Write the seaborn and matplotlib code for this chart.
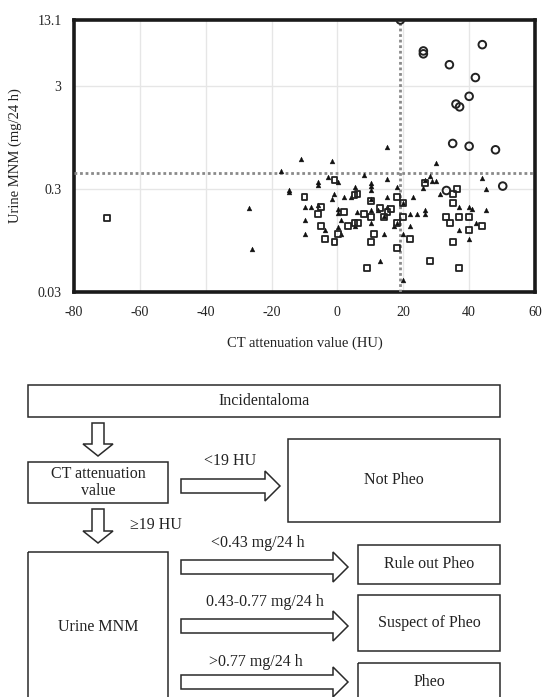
import matplotlib
matplotlib.use("Agg")
import matplotlib.pyplot as plt
import seaborn as sns
import pandas as pd
from matplotlib.patches import Rectangle, Polygon
from matplotlib.ticker import FixedLocator, NullLocator

# ---------------- data ----------------
circle_hu = [19.1, 26.1, 26.1, 34.0, 44.0, 41.9, 40.0, 36.0, 37.1, 35.0, 40.0, 48.0, 50.2, 33.1]
circle_mnm = [13.1, 6.56, 6.15, 4.82, 7.55, 3.62, 2.38, 2.0, 1.88, 0.83, 0.78, 0.72, 0.32, 0.29]

square_hu = [-70, -10.0, -4.9, -5.9, -4.9, -3.9, -0.9, -0.9, 0.1, 2.1, 3.1, 5.2, 6.3, 5.2, 6.1,
             8.2, 10.2, 10.2, 11.1, 10.2, 9.0, 13.0, 14.2, 15.2, 16.2, 18.0, 18.0, 18.0, 20.0,
             20.0, 22.1, 26.7, 28.1, 33.1, 34.1, 35.1, 35.1, 36.2, 37.0, 35.1, 40.0, 40.0, 44.0, 37.0]
square_mnm = [0.158, 0.252, 0.20, 0.17, 0.13, 0.099, 0.37, 0.092, 0.109, 0.18, 0.131, 0.141, 0.141,
              0.26, 0.27, 0.17, 0.23, 0.16, 0.11, 0.091, 0.051, 0.197, 0.16, 0.178, 0.19, 0.25,
              0.141, 0.080, 0.22, 0.16, 0.099, 0.345, 0.060, 0.16, 0.141, 0.27, 0.22, 0.297, 0.16,
              0.091, 0.16, 0.121, 0.13, 0.051]

tri_hu = [-17.0, -11.0, -1.8, 30.0, 15.2, 15.2, 8.1, -2.8, -5.9, -5.9, -14.8, -14.8, 0.1, 5.2,
          10.2, 10.2, 10.2, 18.0, 26.1, 26.7, 28.0, 28.8, 30.0, 31.1, 43.9, 45.0, 45.0, -9.9,
          -8.1, -5.9, -9.9, -9.9, -1.8, -0.9, 2.1, 4.0, 0.1, 0.1, 1.1, 0.1, 1.1, -3.9, 6.0, 5.2,
          10.2, 10.2, 10.2, 12.2, 14.2, 15.2, 15.2, 14.2, 13.0, 17.2, 18.0, 20.0, 20.0, 20.0,
          22.1, 24.1, 22.1, 23.0, 26.7, 26.7, 37.0, 37.0, 40.0, 41.0, 40.0, 42.0, -26.9, -25.9]
tri_mnm = [0.45, 0.58, 0.56, 0.54, 0.76, 0.375, 0.41, 0.39, 0.35, 0.33, 0.29, 0.28, 0.35, 0.315,
           0.34, 0.32, 0.29, 0.315, 0.31, 0.37, 0.40, 0.36, 0.355, 0.27, 0.387, 0.30, 0.186, 0.20,
           0.20, 0.21, 0.15, 0.109, 0.24, 0.27, 0.252, 0.25, 0.19, 0.175, 0.15, 0.128, 0.109, 0.119,
           0.18, 0.131, 0.24, 0.186, 0.141, 0.186, 0.165, 0.25, 0.20, 0.11, 0.06, 0.13, 0.141, 0.217,
           0.11, 0.0396, 0.17, 0.17, 0.13, 0.252, 0.186, 0.17, 0.20, 0.121, 0.20, 0.19, 0.098, 0.141,
           0.197, 0.079]

hu_cutoff = 19
mnm_cutoff = 0.43
x_ticks = [-80, -60, -40, -20, 0, 20, 40, 60]
y_ticks = [0.03, 0.3, 3, 13.1]
y_tick_labels = ["0.03", "0.3", "3", "13.1"]

# ---------------- figure ----------------
sns.set_theme(style="white")
plt.rcParams['font.family'] = ['Liberation Serif', 'DejaVu Serif']
W, H = 546, 697
fig = plt.figure(figsize=(W / 100, H / 100), dpi=100)

ax = fig.add_axes([74 / W, 1 - 292 / H, (535 - 74) / W, (292 - 20) / H])
ax.set_yscale("log")
ax.set_xlim(-80, 60)
ax.set_ylim(0.03, 13.1)

df_c = pd.DataFrame({"hu": circle_hu, "mnm": circle_mnm})
df_s = pd.DataFrame({"hu": square_hu, "mnm": square_mnm})
df_t = pd.DataFrame({"hu": tri_hu, "mnm": tri_mnm})

sns.scatterplot(data=df_t, x="hu", y="mnm", marker="^", s=12, color="#111111",
                edgecolor="#111111", linewidth=0.3, ax=ax, zorder=4)
sns.scatterplot(data=df_s, x="hu", y="mnm", marker="s", s=18, facecolors="none",
                edgecolor="#222222", linewidth=1.3, ax=ax, zorder=4)
sns.scatterplot(data=df_c, x="hu", y="mnm", marker="o", s=30, facecolors="none",
                edgecolor="#222222", linewidth=1.4, ax=ax, zorder=5)

ax.axvline(hu_cutoff, color="#8a8a8a", linestyle=(0, (1, 1)), linewidth=2, zorder=3)
ax.axhline(mnm_cutoff, color="#8a8a8a", linestyle=(0, (1, 1)), linewidth=2, zorder=3)

ax.xaxis.set_major_locator(FixedLocator(x_ticks))
ax.yaxis.set_major_locator(FixedLocator(y_ticks))
ax.yaxis.set_minor_locator(NullLocator())
ax.set_yticklabels(y_tick_labels)
ax.set_xticklabels([str(t) for t in x_ticks])
ax.tick_params(axis="x", length=0, labelsize=10, colors="#222222", pad=10)
ax.tick_params(axis="y", length=0, labelsize=10, colors="#222222", pad=9)

# grid lines (only interior)
for gx in x_ticks[1:-1]:
    ax.axvline(gx, color="#e6e6e6", linewidth=1, zorder=0)
for gy in [0.3, 3]:
    ax.axhline(gy, color="#e6e6e6", linewidth=1, zorder=0)

for sp in ax.spines.values():
    sp.set_visible(True)
    sp.set_color("#1a1a1a")
    sp.set_linewidth(2.6)

ax.set_xlabel("CT attenuation value (HU)", fontsize=10.5, color="#222222", labelpad=13)
ax.set_ylabel("Urine MNM (mg/24 h)", fontsize=10.5, color="#222222", labelpad=11)

# ---------------- flowchart ----------------
fa = fig.add_axes([0, 0, 1, 1])
fa.set_xlim(0, W)
fa.set_ylim(H, 0)
fa.axis("off")
fa.patch.set_alpha(0)

ec = "#2a2a2a"
fs = 11.5


def box(x0, y0, x1, y1, text=None, ty=None):
    fa.add_patch(Rectangle((x0, y0), x1 - x0, y1 - y0, facecolor="none", edgecolor=ec, lw=1.1))
    if text:
        fa.text((x0 + x1) / 2, ty if ty is not None else (y0 + y1) / 2, text,
                ha="center", va="center", fontsize=fs, color="#222222", linespacing=1.1)


def right_arrow(x0, x1, yc, h=7, hh=15, L=15):
    pts = [(x0, yc - h), (x1 - L, yc - h), (x1 - L, yc - hh), (x1, yc),
           (x1 - L, yc + hh), (x1 - L, yc + h), (x0, yc + h)]
    fa.add_patch(Polygon(pts, closed=True, facecolor="white", edgecolor=ec, lw=1.1))


def down_arrow(xc, y0, y1, w=6, hw=15, L=12):
    pts = [(xc - w, y0), (xc + w, y0), (xc + w, y1 - L), (xc + hw, y1 - L), (xc, y1),
           (xc - hw, y1 - L), (xc - w, y1 - L)]
    fa.add_patch(Polygon(pts, closed=True, facecolor="white", edgecolor=ec, lw=1.1))


def label(x, y, t):
    fa.text(x, y, t, ha="center", va="center", fontsize=fs, color="#222222")


box(28, 385, 500, 417, "Incidentaloma")
down_arrow(98, 423, 456)
box(28, 462, 168, 503, "CT attenuation\nvalue")
right_arrow(181, 280, 486)
label(230, 461, "<19 HU")
box(288, 439, 500, 522, "Not Pheo")
down_arrow(98, 509, 543)
label(156, 525, "\u226519 HU")
box(28, 552, 168, 710, "Urine MNM", ty=627)

right_arrow(181, 348, 567)
label(258, 543, "<0.43 mg/24 h")
box(358, 545, 500, 584, "Rule out Pheo")

right_arrow(181, 348, 626)
label(265, 602, "0.43-0.77 mg/24 h")
box(358, 595, 500, 651, "Suspect of Pheo")

right_arrow(181, 348, 682)
label(256, 662, ">0.77 mg/24 h")
box(358, 663, 500, 710, "Pheo", ty=682)

fig.savefig("out.png", dpi=100)
